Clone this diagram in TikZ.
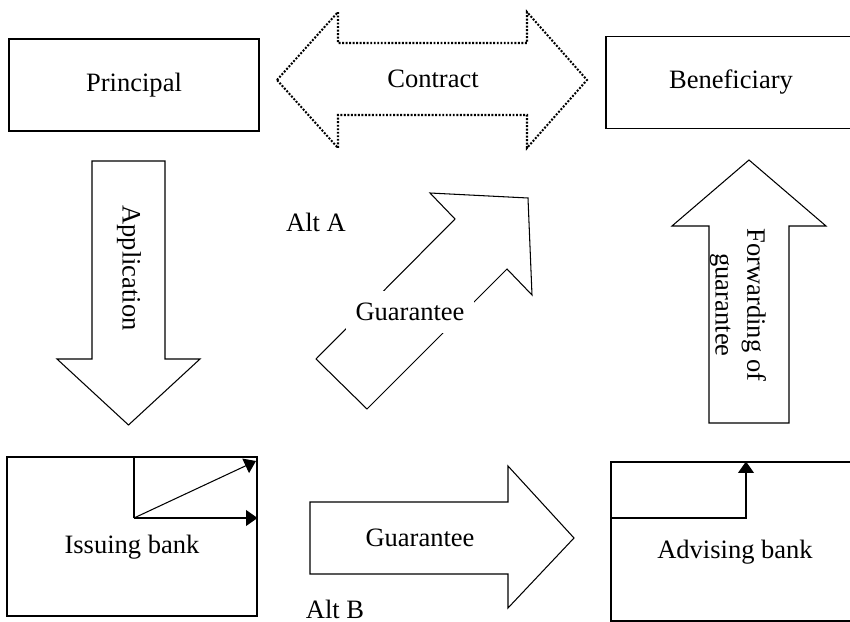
\documentclass[tikz,border=0pt]{standalone}
\usepackage{fontspec}
\setmainfont{Liberation Serif}
\usetikzlibrary{arrows.meta, positioning}
\tikzset{
    party/.style={draw, line width=0.6pt, minimum width=5cm, minimum height=1.84cm, inner sep=0pt},
    bank/.style={party, minimum height=3.18cm},
    blockarrow/.style={draw, line width=0.6pt, line join=miter},
    dottedarrow/.style={draw, line width=1.15pt, dash pattern=on 1.1pt off 0.9pt},
    flow/.style={draw, line width=0.6pt, -{Triangle[length=6.5pt, width=9pt]}}
}

\begin{document}
\begin{tikzpicture}[x=0.02cm, y=-0.02cm, every node/.style={font=\fontsize{15.1}{18.1}\selectfont}]
        \useasboundingbox (0,0) rectangle (850,622);

        % Parties and banks
        \node[party] (principal) at (134,85) {Principal};
        \node[party] (beneficiary) at (731,82.5) {Beneficiary};
        \node[bank] (issuing) at (132,536.5) {};
        \node[bank] (advising) at (736,541.5) {};
        \node (issuingtext) at (132,547) {Issuing bank};
        \node (advisingtext) at (735,552) {Advising bank};

        % Contract (dotted double arrow)
        \draw[dottedarrow] (277,80) -- (338,12) -- (338,43) -- (527,43) -- (527,12)
            -- (587,80) -- (527,148) -- (527,115) -- (338,115) -- (338,148) -- cycle;
        \node (contract) at (433,79) {Contract};

        % Application
        \draw[blockarrow] (92,161) -- (165,161) -- (165,359) -- (200,359) -- (128.5,425)
            -- (57,359) -- (92,359) -- cycle;
        \node[rotate=-90] (application) at (129,268) {Application};

        % Forwarding of guarantee
        \draw[blockarrow] (709,423) -- (709,226) -- (672,226) -- (749,160) -- (826,226)
            -- (789,226) -- (789,423) -- cycle;
        \node[rotate=-90, align=center] (forwarding) at (738,305) {Forwarding of\\guarantee};

        % Alt A: guarantee straight to beneficiary
        \draw[blockarrow] (316,359) -- (455,219) -- (430,193) -- (528,198) -- (532,295)
            -- (507,269) -- (367,409) -- cycle;
        \node[fill=white, inner sep=0pt, minimum width=2.58cm, minimum height=0.84cm] (guaranteeA) at (410,312) {Guarantee};
        \node (altA) at (316,222) {Alt A};

        % Alt B: guarantee via advising bank
        \draw[blockarrow] (310,502) -- (508,502) -- (508,466) -- (574,538) -- (508,608)
            -- (508,574) -- (310,574) -- cycle;
        \node (guaranteeB) at (420,538) {Guarantee};
        \node (altB) at (335,609) {Alt B};

        % Routing inside the banks
        \coordinate (split) at (134,518);
        \coordinate (issuingout) at (256,461);
        \coordinate (advisingin) at (746,518);
        \draw[line width=0.6pt] (split) -- (split |- issuing.north);
        \draw[flow] (split) -- (issuing.east |- split);
        \draw[flow] (split) -- (issuingout);
        \draw[flow] (advising.west |- advisingin) -- (advisingin) -- (advisingin |- advising.north);
    \end{tikzpicture}
\end{document}
